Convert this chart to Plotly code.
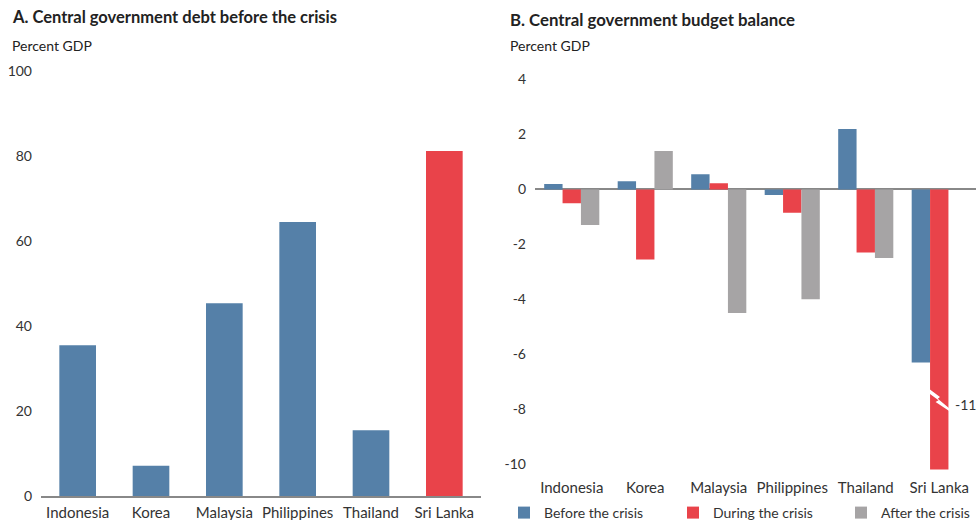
import plotly.graph_objects as go

# Dane
kraje = ["Indonesia", "Korea", "Malaysia", "Philippines", "Thailand", "Sri Lanka"]
dlug_przed = [35.5, 7.1, 45.4, 64.5, 15.5, 81.2]

saldo_przed = [0.2, 0.3, 0.55, -0.2, 2.2, -6.3]
saldo_w_trakcie = [-0.5, -2.55, 0.22, -0.85, -2.3, -11.0]
saldo_po = [-1.3, 1.4, -4.5, -4.0, -2.5, None]

ticki_b = [4, 2, 0, -2, -4, -6, -8, -10]
ticki_b_tekst = ["4", "2", "0", "-2", "-4", "-6", "-8", "-10"]

NIEBIESKI = "#5580a8"
CZERWONY = "#e9434a"
SZARY = "#a6a4a5"
FONT = "Lato"
W, H = 977, 520


def px_x(px):
    return px / W


def px_y(py):
    return 1 - py / H


x_idx = list(range(len(kraje)))

fig = go.Figure()

# Panel A - dług przed kryzysem
fig.add_trace(go.Bar(
    x=x_idx, y=dlug_przed,
    marker_color=[NIEBIESKI] * 5 + [CZERWONY],
    marker_line_width=0, width=0.5,
    showlegend=False, xaxis="x", yaxis="y",
))

# Panel B - saldo budżetu, każda seria z własną legendą
serie = [
    ("Before the crisis", saldo_przed, NIEBIESKI, "legend"),
    ("During the crisis", saldo_w_trakcie, CZERWONY, "legend2"),
    ("After the crisis", saldo_po, SZARY, "legend3"),
]
for nazwa, wartosci, kolor, leg in serie:
    fig.add_trace(go.Bar(
        x=x_idx, y=wartosci, name=nazwa,
        marker_color=kolor, marker_line_width=0,
        xaxis="x2", yaxis="y2", legend=leg,
    ))

# Znak przerwania słupka Sri Lanka (-11)
fig.add_shape(
    type="path", xref="x2", yref="y2",
    path="M 4.86 -7.26 L 5.01 -7.56 L 4.98 -7.62 L 5.14 -7.98 "
         "L 5.14 -8.08 L 4.95 -7.74 L 4.99 -7.68 L 4.86 -7.42 Z",
    fillcolor="white", line_width=0, layer="above",
)
fig.add_annotation(
    x=5.125, y=-7.85, xref="x2", yref="y2", text="-11",
    showarrow=False, xanchor="left", xshift=5,
    font=dict(size=14, color="#333", family=FONT),
)

tytuly = [
    (10, 17, "<b>A. Central government debt before the crisis</b>", 16.5),
    (10, 45, "Percent GDP", 14),
    (508, 20, "<b>B. Central government budget balance</b>", 16.8),
    (508, 45, "Percent GDP", 14),
]
for px, py, tekst, rozm in tytuly:
    fig.add_annotation(
        x=px_x(px), y=px_y(py), xref="paper", yref="paper",
        text=tekst, showarrow=False, xanchor="left", yanchor="middle",
        font=dict(size=rozm, color="#222", family=FONT),
    )

os_x = dict(
    tickvals=x_idx, ticktext=kraje, showgrid=False, zeroline=False,
    tickfont=dict(size=15, color="#333"), ticks="", fixedrange=True,
)


def legenda(px):
    return dict(
        orientation="h", x=px_x(px), y=px_y(513), xanchor="left",
        yanchor="middle", font=dict(size=14, color="#333"),
        bgcolor="rgba(0,0,0,0)", borderwidth=0,
    )


fig.update_layout(
    width=W, height=H,
    margin=dict(l=0, r=0, t=0, b=0, autoexpand=False),
    paper_bgcolor="white", plot_bgcolor="white",
    font=dict(family=FONT, color="#333"),
    barmode="group", bargap=0.25, bargroupgap=0,
    xaxis=dict(os_x, domain=[px_x(41), px_x(481)], range=[-0.5, 5.5],
               showline=True, linecolor="#888", linewidth=1.5,
               ticklabelstandoff=2, anchor="y"),
    yaxis=dict(domain=[px_y(496), px_y(71)], range=[0, 100.05],
               tickvals=[0, 20, 40, 60, 80, 100], showgrid=False,
               zeroline=False, tickfont=dict(size=14, color="#333"),
               ticklabelstandoff=8, anchor="x"),
    xaxis2=dict(os_x, domain=[px_x(535), px_x(976)], range=[-0.5, 5.5],
                showline=False, ticklabelstandoff=7, anchor="y2"),
    yaxis2=dict(domain=[px_y(469.5), px_y(79)], range=[-10.2, 4.02],
                tickvals=ticki_b, ticktext=ticki_b_tekst, showgrid=False,
                zeroline=True, zerolinecolor="#888", zerolinewidth=1.5,
                tickfont=dict(size=14, color="#333"),
                ticklabelstandoff=8, anchor="x2"),
    legend=legenda(504),
    legend2=legenda(673),
    legend3=legenda(841),
)

# bez domyślnego marginesu strony, żeby wykres wypełniał całe okno
fig.write_html(
    "out.html",
    config={"displayModeBar": False},
    post_script="document.body.style.margin='0';"
                "document.body.style.overflow='hidden';",
)
